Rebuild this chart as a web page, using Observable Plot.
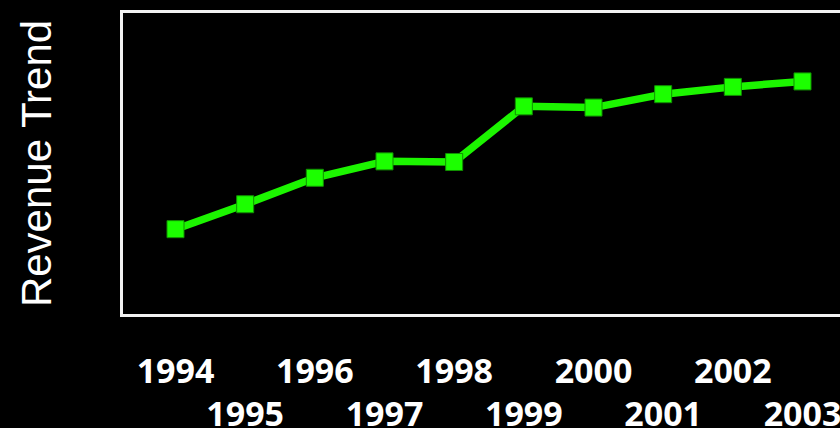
<!DOCTYPE html>
<html>
<head>
<meta charset="utf-8">
<script src="https://cdn.jsdelivr.net/npm/d3@7"></script>
<script src="https://cdn.jsdelivr.net/npm/@observablehq/plot@0.6"></script>
<style>
  html, body { margin: 0; padding: 0; background: #000; overflow: hidden; width: 840px; height: 428px; }
  #chart svg { max-width: none !important; width: 860px !important; height: 428px !important; display: block; }
</style>
</head>
<body>
<div id="chart"></div>
<script>
const years = [1994, 1995, 1996, 1997, 1998, 1999, 2000, 2001, 2002, 2003];
const revenue = [28.4, 36.6, 45.3, 50.7, 50.5, 68.8, 68.4, 72.8, 75.2, 77.0];
const evenYears = years.filter(y => y % 2 === 0);
const oddYears = years.filter(y => y % 2 === 1);
const yLabel = "Revenue Trend";

const data = years.map((year, i) => ({year, value: revenue[i]}));

const chart = Plot.plot({
  width: 860,
  height: 428,
  marginLeft: 121,
  marginRight: 4,
  marginTop: 11,
  marginBottom: 113,
  style: {background: "#000", color: "#fff", overflow: "visible", maxWidth: "none"},
  x: {domain: [1994, 2003], range: [175, 802], axis: null},
  y: {domain: [0, 100], axis: null},
  marks: [
    Plot.frame({stroke: "#f2f2f2", strokeWidth: 3}),
    Plot.line(data, {x: "year", y: "value", stroke: "#1cf500", strokeWidth: 7.5}),
    Plot.dot(data, {x: "year", y: "value", symbol: "square", r: 9.6, fill: "#1cff00", stroke: "#119000", strokeWidth: 1}),
    Plot.text(evenYears, {x: d => d, frameAnchor: "bottom", dy: 67, lineAnchor: "bottom", text: d => String(d),
      fill: "#fff", fontSize: 34, fontWeight: "bold", fontFamily: "Open Sans"}),
    Plot.text(oddYears, {x: d => d, frameAnchor: "bottom", dy: 110, lineAnchor: "bottom", text: d => String(d),
      fill: "#fff", fontSize: 34, fontWeight: "bold", fontFamily: "Open Sans"}),
    Plot.text([yLabel], {frameAnchor: "left", dx: -71, rotate: -90, lineAnchor: "bottom", textAnchor: "middle",
      text: d => d, fill: "#fff", fontSize: 42, fontFamily: "Liberation Sans"})
  ]
});
chart.style.maxWidth = "none";
document.getElementById("chart").appendChild(chart);
</script>
</body>
</html>
